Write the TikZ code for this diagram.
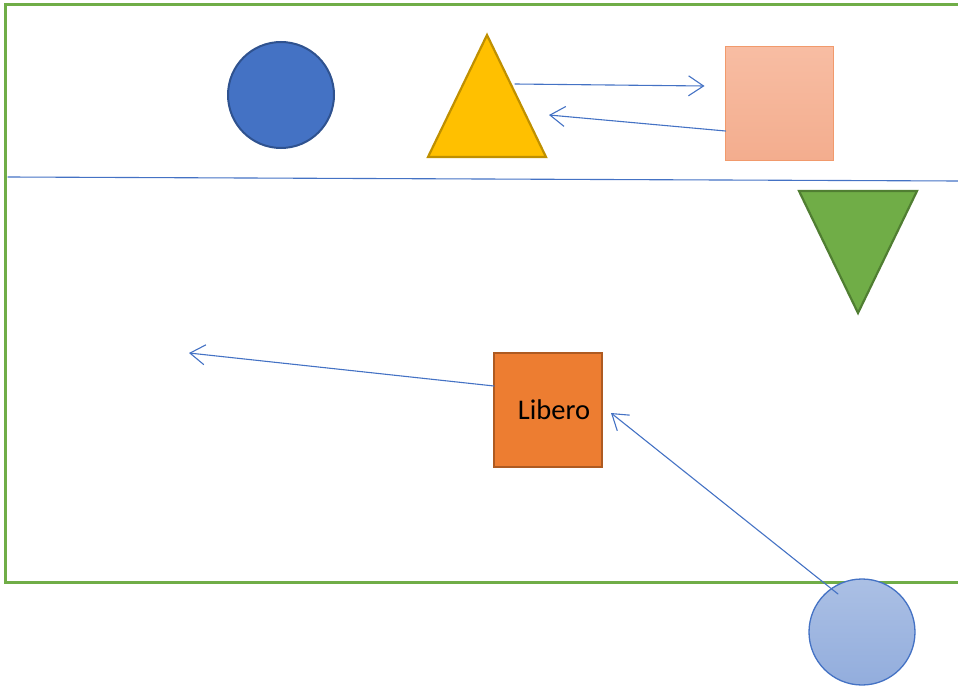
\documentclass[tikz,border=0pt]{standalone}
\usepackage{fontspec}
\setmainfont{Carlito}
\usetikzlibrary{positioning,arrows.meta,shapes.geometric}
\definecolor{fieldgreen}{HTML}{70AD47}
\definecolor{darkgreen}{HTML}{507E32}
\definecolor{officeblue}{HTML}{4472C4}
\definecolor{navyline}{HTML}{2F528F}
\definecolor{gold}{HTML}{FFC000}
\definecolor{darkgold}{HTML}{BF9000}
\definecolor{liberoorange}{HTML}{ED7D31}
\definecolor{rust}{HTML}{AE5A21}
\definecolor{salmontop}{HTML}{F8BDA3}
\definecolor{salmonbot}{HTML}{F3AD8E}
\definecolor{salmonline}{HTML}{F19A6C}

\begin{document}
\begin{tikzpicture}[x=1pt, y=-1pt, line cap=round,
  every node/.style={inner sep=0pt, outer sep=0pt},
  link/.style={draw=officeblue, line width=1.1pt, -{Straight Barb[length=15pt,width=20pt,line width=1.1pt]}},
  player/.style={circle, minimum size=106pt, line width=2pt},
  cone/.style={isosceles triangle, isosceles triangle stretches, minimum width=118pt, minimum height=122pt, line width=2.2pt}]
  \useasboundingbox (0,0) rectangle (958,687);
  % court and net
  \draw[fieldgreen, line width=3pt] (962,5) -- (5,5) -- (5,582) -- (962,582);
  \draw[officeblue, line width=1.1pt] (8,177) -- (958,181);
  % players
  \node[player, fill=officeblue, draw=navyline] (blue) at (281,95) {};
  \node[cone, shape border rotate=90, fill=gold, draw=darkgold] (tri) at (487,120) {};
  \node[draw=salmonline, line width=1.4pt, minimum width=108pt, minimum height=114pt,
        shading=axis, top color=salmontop, bottom color=salmonbot] (pink) at (779.5,103.5) {};
  \node[cone, shape border rotate=270, fill=fieldgreen, draw=darkgreen] (cone) at (858,228) {};
  \node[fill=liberoorange, draw=rust, line width=2.2pt, minimum width=108pt, minimum height=114pt,
        font=\fontsize{28.5}{32}\selectfont] (libero) at (548,410) {\hspace*{12pt}\raisebox{-3pt}{Libero}};
  \node[player, draw=officeblue, line width=1.3pt, shading=axis,
        top color=officeblue!45, bottom color=officeblue!58] (light) at (862,632) {};
  \coordinate (free) at (189,353);
  % passes
  \draw[link] ([xshift=28pt,yshift=-49pt]tri.apex) -- ([xshift=-21pt,yshift=17.5pt]pink.west);
  \draw[link] ([yshift=-27.5pt]pink.west) -- ([xshift=62pt,yshift=-80pt]tri.apex);
  \draw[link] ([yshift=24pt]libero.west) -- (free);
  \draw[link] ([xshift=-24pt,yshift=38pt]light.center) -- ([xshift=9pt,yshift=-3pt]libero.east);
\end{tikzpicture}
\end{document}
